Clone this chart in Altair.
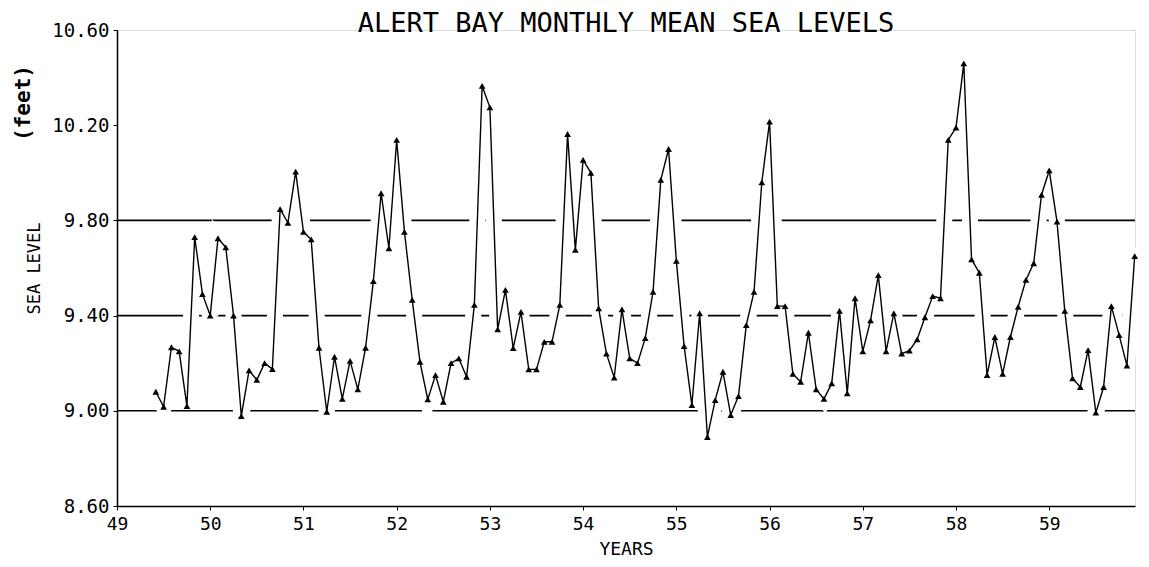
import altair as alt
import pandas as pd

# Monthly mean sea levels (feet), Alert Bay, June 1949 - Dec 1959
start_year = 1949
start_month = 6
y1949 = [9.08, 9.017, 9.267, 9.25, 9.02, 9.73, 9.49]
y1950 = [9.40, 9.725, 9.687, 9.40, 8.978, 9.17, 9.13, 9.20, 9.175, 9.847, 9.79, 10.005]
y1951 = [9.752, 9.72, 9.265, 8.996, 9.227, 9.05, 9.21, 9.09, 9.265, 9.545, 9.914, 9.683]
y1952 = [10.138, 9.752, 9.466, 9.206, 9.048, 9.15, 9.038, 9.20, 9.22, 9.143, 9.445, 10.365]
y1953 = [10.275, 9.342, 9.508, 9.263, 9.416, 9.174, 9.174, 9.29, 9.29, 9.445, 10.163, 9.676]
y1954 = [10.054, 10.0, 9.43, 9.24, 9.14, 9.426, 9.22, 9.20, 9.305, 9.50, 9.97, 10.10]
y1955 = [9.63, 9.272, 9.024, 9.41, 8.89, 9.045, 9.164, 8.982, 9.062, 9.36, 9.50, 9.96]
y1956 = [10.215, 9.44, 9.44, 9.155, 9.122, 9.328, 9.09, 9.05, 9.115, 9.42, 9.073, 9.473]
y1957 = [9.25, 9.38, 9.57, 9.25, 9.41, 9.24, 9.253, 9.30, 9.393, 9.482, 9.473, 10.138]
y1958 = [10.19, 10.46, 9.636, 9.58, 9.15, 9.31, 9.155, 9.31, 9.437, 9.55, 9.62, 9.907]
y1959 = [10.01, 9.795, 9.42, 9.136, 9.10, 9.255, 8.992, 9.10, 9.44, 9.318, 9.19, 9.65]

year_series = [y1949, y1950, y1951, y1952, y1953, y1954, y1955, y1956, y1957, y1958, y1959]

ref_levels = [9.00, 9.40, 9.80]
x_ticks = [49, 50, 51, 52, 53, 54, 55, 56, 57, 58, 59]
y_ticks = [8.6, 9.0, 9.4, 9.8, 10.2, 10.6]
title_text = "ALERT BAY MONTHLY MEAN SEA LEVELS"

rows = []
for i, vals in enumerate(year_series):
    yr = (start_year - 1900) + i
    m0 = start_month if i == 0 else 1
    for k, v in enumerate(vals):
        m = m0 + k
        rows.append({"t": yr + (m - 1) / 12.0, "level": v})
df = pd.DataFrame(rows)
ref_df = pd.DataFrame({"level": ref_levels})

FONT = "DejaVu Sans Mono"

x_scale = alt.Scale(domain=[49, 59.92], nice=False, zero=False)
y_scale = alt.Scale(domain=[8.6, 10.6], nice=False, zero=False)

x_enc = alt.X("t:Q", scale=x_scale,
              axis=alt.Axis(values=x_ticks, format="d", title="YEARS", grid=False,
                            tickSize=4, labelFontSize=18, titleFontSize=18,
                            labelFont=FONT, titleFont=FONT, titleFontWeight="normal",
                            labelPadding=5, titlePadding=7, domainColor="black",
                            tickColor="black", labelColor="black", titleColor="black",
                            domainWidth=1.5, labelFlush=False))
y_enc = alt.Y("level:Q", scale=y_scale,
              axis=alt.Axis(values=y_ticks, format=".2f", title="SEA LEVEL", grid=False,
                            tickSize=4, labelFontSize=19, titleFontSize=17,
                            labelFont=FONT, titleFont=FONT, titleFontWeight="normal",
                            labelPadding=4, titlePadding=8, domainColor="black",
                            tickColor="black", labelColor="black", titleColor="black",
                            domainWidth=1.5))

rules = alt.Chart(ref_df).mark_rule(color="black", strokeWidth=1.6).encode(
    y=alt.Y("level:Q", scale=y_scale),
    x=alt.value(0), x2=alt.value(1018))

base = alt.Chart(df).encode(x=x_enc, y=y_enc)
halo = base.mark_line(color="white", strokeWidth=16, strokeCap="round")
line = base.mark_line(color="black", strokeWidth=1.4)
pts = base.mark_point(shape="triangle-up", filled=True, color="black", size=45, opacity=1)

feet = alt.Chart(pd.DataFrame({"lab": ["(feet)"]})).mark_text(
    angle=270, fontSize=21, fontWeight="bold", font=FONT, color="black"
).encode(text="lab:N", x=alt.value(-93), y=alt.value(73))

title = alt.Chart(pd.DataFrame({"lab": [title_text]})).mark_text(
    fontSize=27, font=FONT, color="black", baseline="alphabetic", align="center"
).encode(text="lab:N", x=alt.value(509), y=alt.value(2))

chart = alt.layer(rules, halo, line, pts, feet, title).properties(
    width=1018, height=476,
    padding={"left": 109, "top": 22, "right": 6, "bottom": 53},
    autosize=alt.AutoSizeParams(type="none"),
).configure_view(stroke=None).configure(background="white")

chart.save("out.html", embed_options={"renderer": "svg", "actions": False})
